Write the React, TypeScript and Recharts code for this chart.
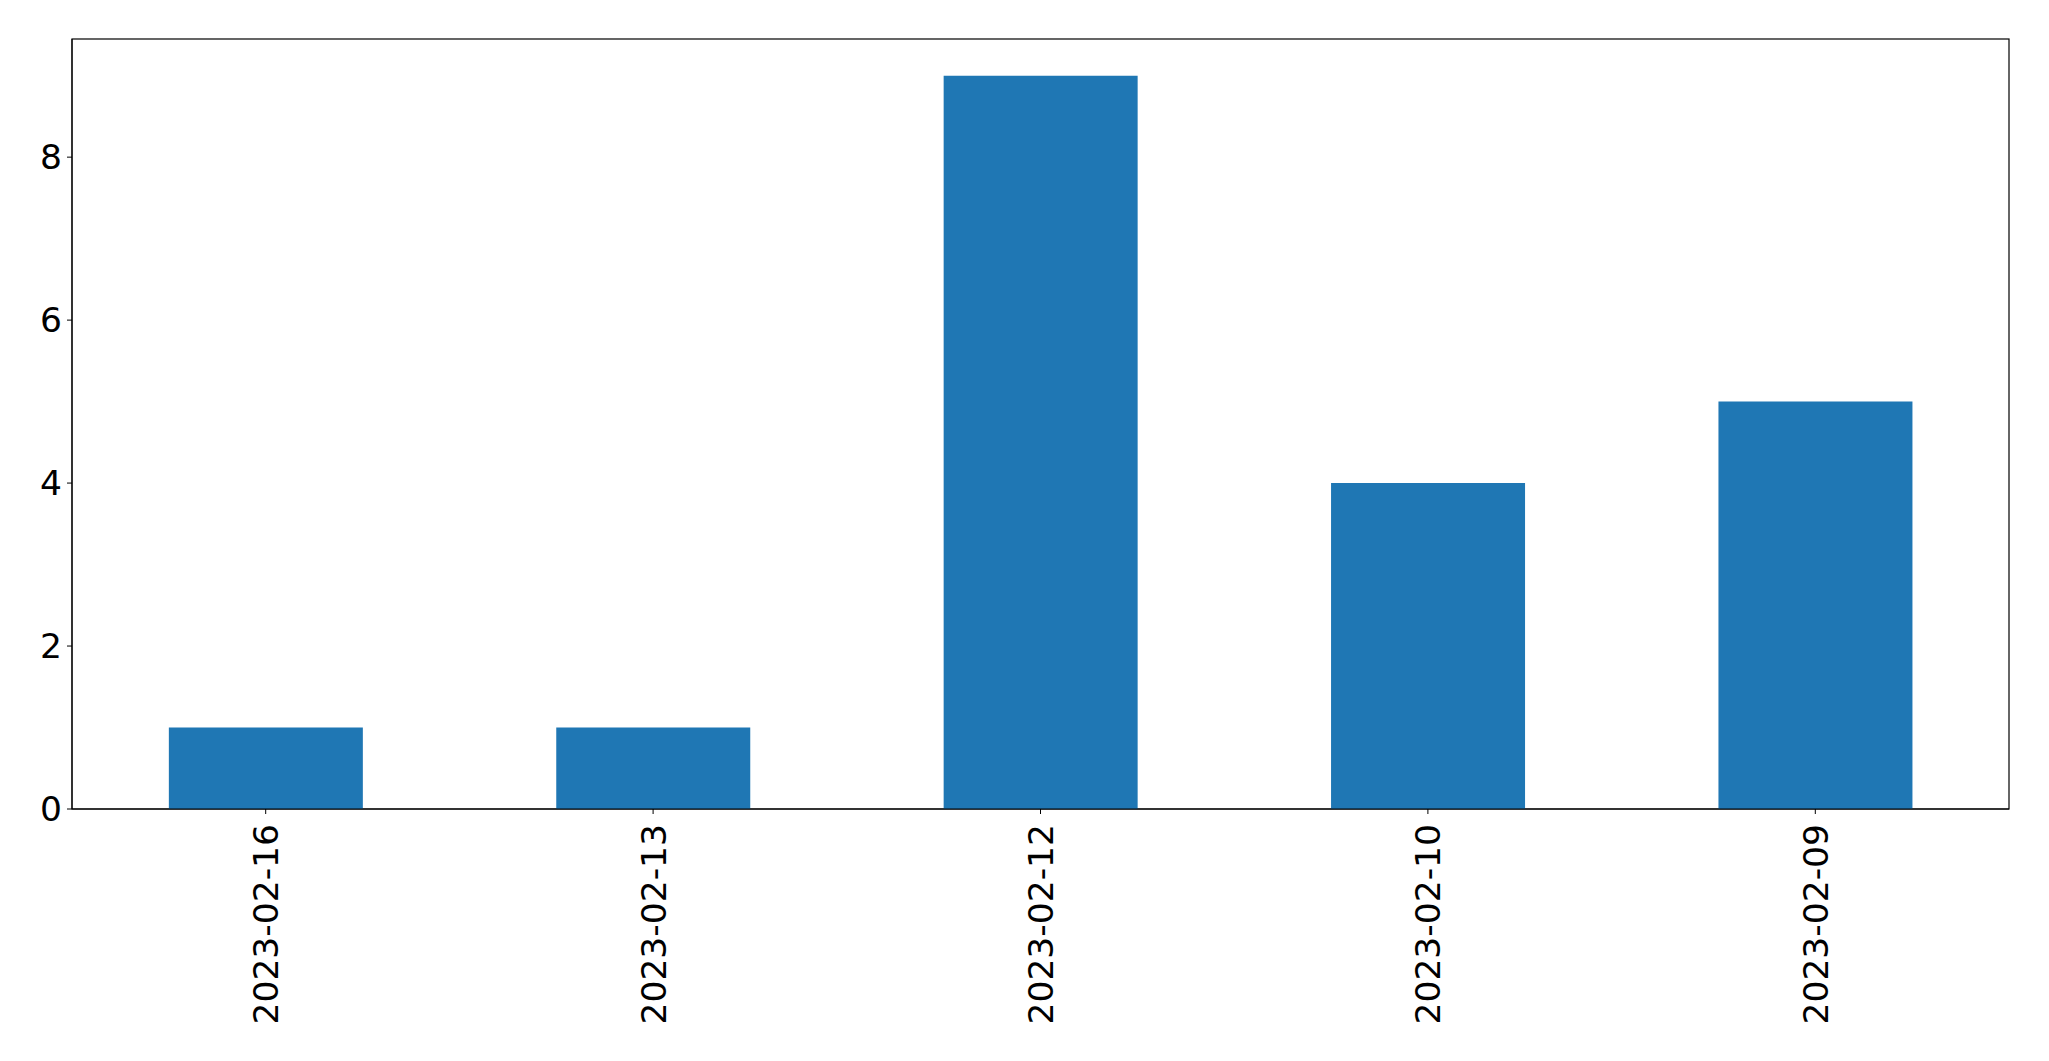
import { BarChart, Bar, XAxis, YAxis, usePlotArea } from "recharts";

const dates = ["2023-02-16", "2023-02-13", "2023-02-12", "2023-02-10", "2023-02-09"];
const counts = [1, 1, 9, 4, 5];
const yTicks = [0, 2, 4, 6, 8];

const data = dates.map((d, i) => ({ date: d, count: counts[i] }));

const FONT = "'DejaVu Sans', sans-serif";

const RotatedTick = (props: any) => {
    const { x, y, payload } = props;
    return (
        <text
            x={0}
            y={0}
            dy={12.5}
            transform={`translate(${x},${y}) rotate(-90)`}
            textAnchor="end"
            fontSize={34.5}
            fontFamily={FONT}
            fill="#000"
        >
            {payload.value}
        </text>
    );
};

// frame around the plot area, like matplotlib's spines
const Frame = () => {
    const area = usePlotArea();
    if (!area) return null;
    return (
        <rect
            x={area.x}
            y={area.y}
            width={area.width}
            height={area.height}
            fill="none"
            stroke="#000"
            strokeWidth={1.2}
        />
    );
};

export default function App() {
    return (
        <div style={{ position: "absolute", left: 0, top: 0, background: "#fff" }}>
            <BarChart
                width={2049}
                height={1061}
                data={data}
                margin={{ top: 39, right: 40, left: 0, bottom: 0 }}
                barCategoryGap="25%"
            >
                <XAxis
                    dataKey="date"
                    height={252}
                    interval={0}
                    stroke="#000"
                    tickSize={5}
                    tickMargin={10}
                    tick={<RotatedTick />}
                />
                <YAxis
                    width={72}
                    domain={[0, 9.45]}
                    ticks={yTicks}
                    allowDataOverflow
                    stroke="#000"
                    tickSize={5}
                    tickMargin={5}
                    tick={{ fontSize: 34.5, fontFamily: FONT, fill: "#000" }}
                />
                <Bar dataKey="count" fill="#1f77b4" isAnimationActive={false} />
                <Frame />
            </BarChart>
        </div>
    );
}
